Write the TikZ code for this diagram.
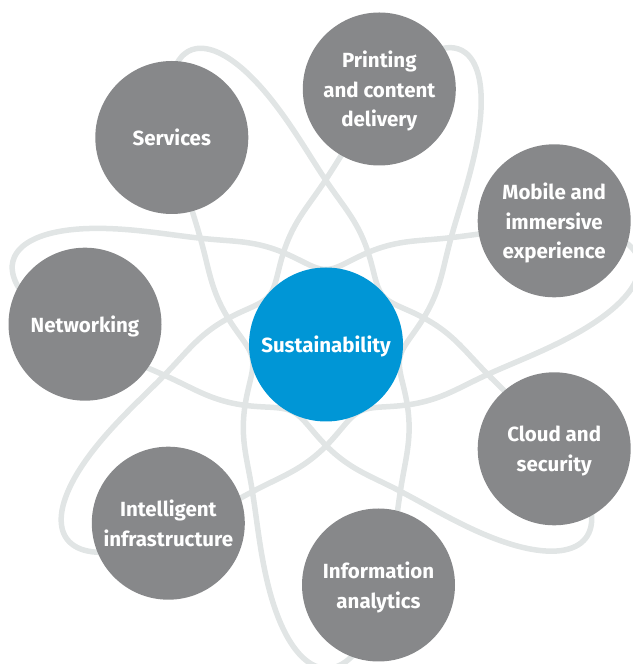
\documentclass[tikz,border=0pt]{standalone}
\usepackage{fontspec}
\setmainfont{Fira Sans}
\definecolor{hpblue}{RGB}{0,150,214}
\definecolor{topicgrey}{RGB}{135,136,138}
\definecolor{orbitgrey}{RGB}{225,229,229}

\begin{document}
\begin{tikzpicture}[
    x=1pt, y=1pt,
    topic/.style={circle, fill=topicgrey, minimum size=153pt, inner sep=0pt, align=center, text=white, text depth=0pt, font=\fontsize{20.5}{29.5}\selectfont\bfseries},
    hubnode/.style={topic, fill=hpblue, minimum size=154pt},
    orbit/.style={draw=orbitgrey, line width=5.5pt, line join=round},
    declare function={wt(\t)=0.5+0.5*cos(7*\t/3); orbitr(\t)=75+105*wt(\t)+144*pow(abs(wt(\t)),9);}
]
\useasboundingbox (0,0) rectangle (632,664);

% Orbit star behind the circles
\draw[orbit, shift={(326,319.5)}] plot[domain=0:1080, samples=1400, smooth] ({\x+13+2.3*cos(\x+13)}:{orbitr(\x)});

% Centre
\node[hubnode] (hub) at (326,319.5) {Sustainability};

% Topics
\node[topic] (services) at (171.8,526.5) {Services};
\node[topic] (printing) at (379.3,575) {Printing\\and content\\delivery};
\node[topic] (mobile) at (554.2,443.2) {Mobile and\\immersive\\experience};
\node[topic] (networking) at (85,339.8) {Networking};
\node[topic] (cloud) at (554.2,215.2) {Cloud and\\security};
\node[topic] (infra) at (168.3,140.8) {Intelligent\\infrastructure};
\node[topic] (analytics) at (378.5,79) {Information\\analytics};

\end{tikzpicture}
\end{document}
